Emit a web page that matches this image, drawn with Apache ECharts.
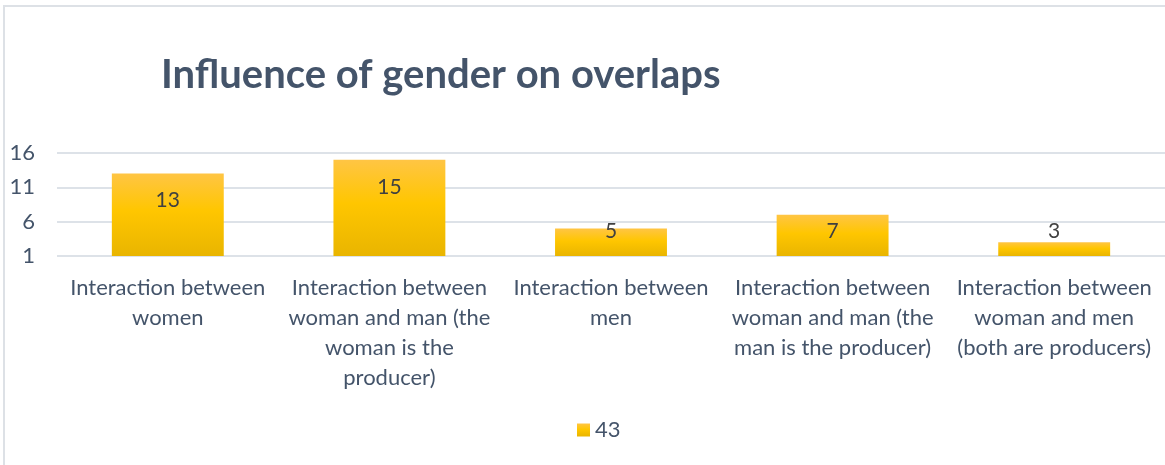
<!DOCTYPE html>
<html>
<head>
<meta charset="utf-8">
<script src="https://cdn.jsdelivr.net/npm/echarts@6/dist/echarts.min.js"></script>
<style>
  html, body { margin: 0; padding: 0; background: #fff; }
  #chart { width: 1165px; height: 465px; }
</style>
</head>
<body>
<div id="chart"></div>
<script>
// chart data
const categories = [
  "Interaction between\nwomen",
  "Interaction between\nwoman and man (the\nwoman is the\nproducer)",
  "Interaction between\nmen",
  "Interaction between\nwoman and man (the\nman is the producer)",
  "Interaction between\nwoman and men\n(both are producers)",
];
const values = [13, 15, 5, 7, 3];
const seriesName = "43";
const yTicks = { min: 1, max: 16, step: 5 };

const textColor = "#44546a";
const font = "Lato, 'Open Sans', sans-serif";

const chart = echarts.init(document.getElementById("chart"));

const barColor = new echarts.graphic.LinearGradient(0, 0, 0, 1, [
  { offset: 0, color: "#ffc544" },
  { offset: 0.45, color: "#ffc600" },
  { offset: 1, color: "#e9b500" },
]);

chart.setOption({
  animation: false,
  textStyle: { fontFamily: font },
  title: {
    text: "Influence of gender on overlaps",
    left: 156,
    top: 50,
    textStyle: { color: textColor, fontSize: 40, fontWeight: "bold", fontFamily: font },
  },
  graphic: [
    {
      type: "rect",
      shape: { x: 4, y: 6, width: 1200, height: 500 },
      style: { fill: null, stroke: "#dde1e6", lineWidth: 2 },
      silent: true,
    },
  ],
  legend: {
    bottom: 19,
    left: 572,
    itemWidth: 13,
    itemHeight: 13,
    itemGap: 6,
    textStyle: { color: textColor, fontSize: 22, fontFamily: font },
    data: [{ name: seriesName, icon: "rect" }],
  },
  grid: { left: 57, right: 0, top: 153, bottom: 209 },
  xAxis: {
    type: "category",
    data: categories,
    axisLine: { show: false },
    axisTick: { show: false },
    axisLabel: {
      color: textColor,
      fontSize: 22,
      lineHeight: 30,
      margin: 17,
      interval: 0,
      fontFamily: font,
    },
  },
  yAxis: {
    type: "value",
    min: yTicks.min,
    max: yTicks.max,
    interval: yTicks.step,
    axisLine: { show: false },
    axisTick: { show: false },
    axisLabel: { color: textColor, fontSize: 22, margin: 22, fontFamily: font },
    splitLine: { lineStyle: { color: "#dde2e8", width: 2 } },
  },
  series: [
    {
      name: seriesName,
      type: "bar",
      barWidth: "50.5%",
      itemStyle: { color: barColor },
      data: values,
    },
  ],
});

// place value labels like the original: 27px under the bar top, but never lower than 25px above the base
const base = chart.convertToPixel({ seriesIndex: 0 }, [0, yTicks.min])[1];
chart.setOption({
  series: [
    {
      data: values.map((v, i) => {
        const top = chart.convertToPixel({ seriesIndex: 0 }, [i, v])[1];
        const h = base - top;
        return {
          value: v,
          label: {
            show: true,
            position: ["50%", Math.min(27, h - 25)],
            align: "center",
            verticalAlign: "middle",
            color: "#404040",
            fontSize: 21,
            fontFamily: font,
          },
        };
      }),
    },
  ],
});
</script>
</body>
</html>
